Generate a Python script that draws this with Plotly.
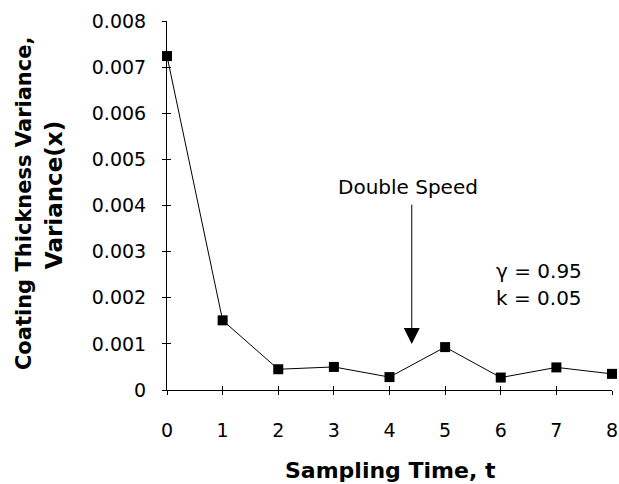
import plotly.graph_objects as go

t = [0, 1, 2, 3, 4, 5, 6, 7, 8]
variance = [0.00724, 0.00151, 0.00045, 0.00050, 0.00028, 0.00093, 0.00027, 0.00049, 0.00035]
y_ticks = [0, 0.001, 0.002, 0.003, 0.004, 0.005, 0.006, 0.007, 0.008]
y_tick_labels = ["0", "0.001", "0.002", "0.003", "0.004", "0.005", "0.006", "0.007", "0.008"]
x_ticks = [0, 1, 2, 3, 4, 5, 6, 7, 8]

arrow_x = 4.4
arrow_head_y = 0.001
arrow_tail_y = 0.00405
label_y = 0.0041

FONT = "DejaVu Sans, Liberation Sans, Arial, sans-serif"

fig = go.Figure()
fig.add_trace(go.Scatter(
    x=t, y=variance, mode="lines+markers",
    line=dict(color="black", width=1),
    marker=dict(symbol="square", size=10, color="black"),
    cliponaxis=False, showlegend=False,
))

axis_common = dict(showgrid=False, zeroline=False, linecolor="black", linewidth=1,
                   tickcolor="black", ticklen=4, tickwidth=1, automargin=False)

fig.update_layout(
    width=619, height=484,
    margin=dict(l=167, r=7, t=21, b=94, pad=0),
    paper_bgcolor="white", plot_bgcolor="white",
    font=dict(family=FONT, size=18, color="black"),
    xaxis=dict(range=[0, 8], tickvals=x_ticks, ticks="outside", showline=True,
               tickfont=dict(size=19), ticklabelstandoff=19, **axis_common),
    yaxis=dict(range=[0, 0.008], tickvals=y_ticks, ticktext=y_tick_labels, ticks="outside",
               showline=True, tickfont=dict(size=19), ticklabelstandoff=12, **axis_common),
    xaxis2=dict(range=[0, 8], tickvals=x_ticks, ticks="inside", showticklabels=False,
                overlaying="x", showline=False, **axis_common),
    yaxis2=dict(range=[0, 0.008], tickvals=y_ticks, ticks="inside", showticklabels=False,
                overlaying="y", showline=False, **axis_common),
)
fig.add_trace(go.Scatter(x=[None], y=[None], xaxis="x2", yaxis="y2", showlegend=False))

fig.add_annotation(xref="paper", yref="paper", x=-0.321, y=0.507, text="<b>Coating Thickness Variance,</b>",
                   textangle=-90, showarrow=False, font=dict(size=21), xanchor="center", yanchor="middle")
fig.add_annotation(xref="paper", yref="paper", x=-0.254, y=0.528, text="<b>Variance(x)</b>",
                   textangle=-90, showarrow=False, font=dict(size=23), xanchor="center", yanchor="middle")
fig.add_annotation(xref="paper", yref="paper", x=0.503, y=-0.218, text="<b>Sampling Time, t</b>",
                   showarrow=False, font=dict(size=22), yanchor="middle")

fig.add_annotation(x=arrow_x, y=arrow_head_y, ax=arrow_x, ay=arrow_tail_y, axref="x", ayref="y",
                   xref="x", yref="y", text="", showarrow=True, arrowhead=2, arrowsize=3.2,
                   arrowwidth=1, arrowcolor="black", standoff=0, startstandoff=0)
fig.add_annotation(x=arrow_x - 0.07, y=label_y, xref="x", yref="y", text="Double Speed",
                   showarrow=False, font=dict(size=20), yanchor="bottom")
fig.add_annotation(x=5.88, y=0.00257, xref="x", yref="y", text="γ = 0.95",
                   showarrow=False, font=dict(size=20), xanchor="left")
fig.add_annotation(x=5.88, y=0.00200, xref="x", yref="y", text="k = 0.05",
                   showarrow=False, font=dict(size=20), xanchor="left")

fig.write_html("out.html", config={"displayModeBar": False},
               post_script="document.body.style.margin='0';document.body.style.overflow='hidden';")
